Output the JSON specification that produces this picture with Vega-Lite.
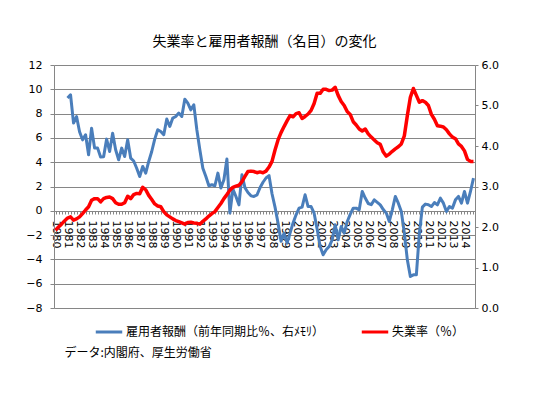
{
  "$schema": "https://vega.github.io/schema/vega-lite/v6.json",
  "width": 421,
  "height": 243,
  "autosize": "none",
  "padding": {"left": 54, "top": 65, "right": 78, "bottom": 109},
  "background": "white",
  "title": {"text": "失業率と雇用者報酬（名目）の変化", "font": "Noto Sans CJK JP", "fontSize": 14, "fontWeight": "normal", "color": "#000000", "anchor": "middle", "offset": 10},
  "config": {
    "view": {"stroke": null},
    "axisLeft": {"tickCount": 10, "labelOverlap": false, "labelFont": "DejaVu Sans", "labelFontSize": 11, "labelColor": "#000000", "labelPadding": 8,
                 "tickSize": 4, "tickColor": "#868686", "domainColor": "#868686", "grid": true, "gridColor": "#868686", "gridWidth": 1, "gridOpacity": 1},
    "axisRight": {"tickCount": 6, "labelOverlap": false, "labelFont": "DejaVu Sans", "labelFontSize": 11, "labelColor": "#000000", "labelPadding": 3,
                  "tickSize": 3, "tickColor": "#868686", "domainColor": "#868686", "grid": false}
  },
  "datasets": {
    "comp": [
      {"p":"1981Q1","v":9.28},{"p":"1981Q2","v":9.55},{"p":"1981Q3","v":7.22},{"p":"1981Q4","v":7.76},
      {"p":"1982Q1","v":6.5},{"p":"1982Q2","v":5.84},{"p":"1982Q3","v":6.26},{"p":"1982Q4","v":4.61},
      {"p":"1983Q1","v":6.8},{"p":"1983Q2","v":5.16},{"p":"1983Q3","v":5.16},{"p":"1983Q4","v":4.42},
      {"p":"1984Q1","v":4.45},{"p":"1984Q2","v":5.9},{"p":"1984Q3","v":4.88},{"p":"1984Q4","v":6.39},
      {"p":"1985Q1","v":5.02},{"p":"1985Q2","v":4.2},{"p":"1985Q3","v":5.16},{"p":"1985Q4","v":4.47},
      {"p":"1986Q1","v":5.84},{"p":"1986Q2","v":4.34},{"p":"1986Q3","v":4.1},{"p":"1986Q4","v":3.5},
      {"p":"1987Q1","v":2.82},{"p":"1987Q2","v":3.65},{"p":"1987Q3","v":3.1},{"p":"1987Q4","v":4.06},
      {"p":"1988Q1","v":4.88},{"p":"1988Q2","v":5.9},{"p":"1988Q3","v":6.67},{"p":"1988Q4","v":6.53},
      {"p":"1989Q1","v":6.26},{"p":"1989Q2","v":7.55},{"p":"1989Q3","v":6.94},{"p":"1989Q4","v":7.63},
      {"p":"1990Q1","v":7.76},{"p":"1990Q2","v":8.04},{"p":"1990Q3","v":7.76},{"p":"1990Q4","v":9.19},
      {"p":"1991Q1","v":8.86},{"p":"1991Q2","v":8.31},{"p":"1991Q3","v":8.72},{"p":"1991Q4","v":6.67},
      {"p":"1992Q1","v":5.02},{"p":"1992Q2","v":3.51},{"p":"1992Q3","v":2.82},{"p":"1992Q4","v":2.06},
      {"p":"1993Q1","v":2.14},{"p":"1993Q2","v":2.06},{"p":"1993Q3","v":3.1},{"p":"1993Q4","v":1.87},
      {"p":"1994Q1","v":2.55},{"p":"1994Q2","v":4.26},{"p":"1994Q3","v":-0.19},{"p":"1994Q4","v":1.79},
      {"p":"1995Q1","v":1.18},{"p":"1995Q2","v":0.49},{"p":"1995Q3","v":2.96},{"p":"1995Q4","v":1.9},
      {"p":"1996Q1","v":1.5},{"p":"1996Q2","v":1.23},{"p":"1996Q3","v":1.18},{"p":"1996Q4","v":1.3},
      {"p":"1997Q1","v":1.9},{"p":"1997Q2","v":2.35},{"p":"1997Q3","v":2.7},{"p":"1997Q4","v":2.9},
      {"p":"1998Q1","v":1.4},{"p":"1998Q2","v":0.3},{"p":"1998Q3","v":-1.0},{"p":"1998Q4","v":-2.5},
      {"p":"1999Q1","v":-1.84},{"p":"1999Q2","v":-2.66},{"p":"1999Q3","v":-1.84},{"p":"1999Q4","v":-1.0},
      {"p":"2000Q1","v":-0.33},{"p":"2000Q2","v":0.22},{"p":"2000Q3","v":0.3},{"p":"2000Q4","v":1.32},
      {"p":"2001Q1","v":0.35},{"p":"2001Q2","v":0.35},{"p":"2001Q3","v":-0.2},{"p":"2001Q4","v":-1.5},
      {"p":"2002Q1","v":-2.94},{"p":"2002Q2","v":-3.62},{"p":"2002Q3","v":-3.2},{"p":"2002Q4","v":-2.94},
      {"p":"2003Q1","v":-2.39},{"p":"2003Q2","v":-1.15},{"p":"2003Q3","v":-2.39},{"p":"2003Q4","v":-1.29},
      {"p":"2004Q1","v":-1.84},{"p":"2004Q2","v":-0.9},{"p":"2004Q3","v":-0.3},{"p":"2004Q4","v":0.22},
      {"p":"2005Q1","v":0.22},{"p":"2005Q2","v":0.08},{"p":"2005Q3","v":1.59},{"p":"2005Q4","v":1.05},
      {"p":"2006Q1","v":0.6},{"p":"2006Q2","v":0.5},{"p":"2006Q3","v":0.9},{"p":"2006Q4","v":0.7},
      {"p":"2007Q1","v":0.49},{"p":"2007Q2","v":0.1},{"p":"2007Q3","v":-0.19},{"p":"2007Q4","v":-0.88},
      {"p":"2008Q1","v":0.08},{"p":"2008Q2","v":1.18},{"p":"2008Q3","v":0.63},{"p":"2008Q4","v":-0.06},
      {"p":"2009Q1","v":-1.84},{"p":"2009Q2","v":-4.03},{"p":"2009Q3","v":-5.41},{"p":"2009Q4","v":-5.27},
      {"p":"2010Q1","v":-5.27},{"p":"2010Q2","v":-1.84},{"p":"2010Q3","v":0.3},{"p":"2010Q4","v":0.55},
      {"p":"2011Q1","v":0.5},{"p":"2011Q2","v":0.35},{"p":"2011Q3","v":0.68},{"p":"2011Q4","v":0.49},
      {"p":"2012Q1","v":1.04},{"p":"2012Q2","v":0.63},{"p":"2012Q3","v":-0.06},{"p":"2012Q4","v":0.35},
      {"p":"2013Q1","v":0.22},{"p":"2013Q2","v":0.9},{"p":"2013Q3","v":1.18},{"p":"2013Q4","v":0.63},
      {"p":"2014Q1","v":1.59},{"p":"2014Q2","v":0.63},{"p":"2014Q3","v":1.59},{"p":"2014Q4","v":2.69}
    ],
    "unemp": [
      {"p":"1980Q1","r":1.92},{"p":"1980Q2","r":2.0},{"p":"1980Q3","r":2.07},{"p":"1980Q4","r":2.15},
      {"p":"1981Q1","r":2.22},{"p":"1981Q2","r":2.25},{"p":"1981Q3","r":2.17},{"p":"1981Q4","r":2.2},
      {"p":"1982Q1","r":2.25},{"p":"1982Q2","r":2.33},{"p":"1982Q3","r":2.42},{"p":"1982Q4","r":2.5},
      {"p":"1983Q1","r":2.66},{"p":"1983Q2","r":2.7},{"p":"1983Q3","r":2.7},{"p":"1983Q4","r":2.62},
      {"p":"1984Q1","r":2.7},{"p":"1984Q2","r":2.73},{"p":"1984Q3","r":2.74},{"p":"1984Q4","r":2.7},
      {"p":"1985Q1","r":2.6},{"p":"1985Q2","r":2.56},{"p":"1985Q3","r":2.56},{"p":"1985Q4","r":2.6},
      {"p":"1986Q1","r":2.76},{"p":"1986Q2","r":2.7},{"p":"1986Q3","r":2.8},{"p":"1986Q4","r":2.83},
      {"p":"1987Q1","r":2.82},{"p":"1987Q2","r":2.98},{"p":"1987Q3","r":2.92},{"p":"1987Q4","r":2.78},
      {"p":"1988Q1","r":2.68},{"p":"1988Q2","r":2.57},{"p":"1988Q3","r":2.52},{"p":"1988Q4","r":2.5},
      {"p":"1989Q1","r":2.38},{"p":"1989Q2","r":2.3},{"p":"1989Q3","r":2.25},{"p":"1989Q4","r":2.2},
      {"p":"1990Q1","r":2.16},{"p":"1990Q2","r":2.13},{"p":"1990Q3","r":2.1},{"p":"1990Q4","r":2.07},
      {"p":"1991Q1","r":2.11},{"p":"1991Q2","r":2.12},{"p":"1991Q3","r":2.1},{"p":"1991Q4","r":2.09},
      {"p":"1992Q1","r":2.07},{"p":"1992Q2","r":2.14},{"p":"1992Q3","r":2.2},{"p":"1992Q4","r":2.27},
      {"p":"1993Q1","r":2.33},{"p":"1993Q2","r":2.38},{"p":"1993Q3","r":2.48},{"p":"1993Q4","r":2.58},
      {"p":"1994Q1","r":2.7},{"p":"1994Q2","r":2.8},{"p":"1994Q3","r":2.91},{"p":"1994Q4","r":2.98},
      {"p":"1995Q1","r":3.01},{"p":"1995Q2","r":3.03},{"p":"1995Q3","r":3.12},{"p":"1995Q4","r":3.25},
      {"p":"1996Q1","r":3.37},{"p":"1996Q2","r":3.38},{"p":"1996Q3","r":3.37},{"p":"1996Q4","r":3.34},
      {"p":"1997Q1","r":3.36},{"p":"1997Q2","r":3.34},{"p":"1997Q3","r":3.38},{"p":"1997Q4","r":3.48},
      {"p":"1998Q1","r":3.62},{"p":"1998Q2","r":3.9},{"p":"1998Q3","r":4.15},{"p":"1998Q4","r":4.33},
      {"p":"1999Q1","r":4.48},{"p":"1999Q2","r":4.62},{"p":"1999Q3","r":4.75},{"p":"1999Q4","r":4.72},
      {"p":"2000Q1","r":4.8},{"p":"2000Q2","r":4.82},{"p":"2000Q3","r":4.68},{"p":"2000Q4","r":4.73},
      {"p":"2001Q1","r":4.79},{"p":"2001Q2","r":4.88},{"p":"2001Q3","r":5.05},{"p":"2001Q4","r":5.3},
      {"p":"2002Q1","r":5.3},{"p":"2002Q2","r":5.4},{"p":"2002Q3","r":5.4},{"p":"2002Q4","r":5.37},
      {"p":"2003Q1","r":5.38},{"p":"2003Q2","r":5.45},{"p":"2003Q3","r":5.25},{"p":"2003Q4","r":5.1},
      {"p":"2004Q1","r":5.0},{"p":"2004Q2","r":4.85},{"p":"2004Q3","r":4.78},{"p":"2004Q4","r":4.6},
      {"p":"2005Q1","r":4.52},{"p":"2005Q2","r":4.42},{"p":"2005Q3","r":4.37},{"p":"2005Q4","r":4.42},
      {"p":"2006Q1","r":4.3},{"p":"2006Q2","r":4.22},{"p":"2006Q3","r":4.15},{"p":"2006Q4","r":4.08},
      {"p":"2007Q1","r":4.04},{"p":"2007Q2","r":3.85},{"p":"2007Q3","r":3.75},{"p":"2007Q4","r":3.8},
      {"p":"2008Q1","r":3.87},{"p":"2008Q2","r":3.93},{"p":"2008Q3","r":3.98},{"p":"2008Q4","r":4.05},
      {"p":"2009Q1","r":4.25},{"p":"2009Q2","r":4.75},{"p":"2009Q3","r":5.2},{"p":"2009Q4","r":5.42},
      {"p":"2010Q1","r":5.25},{"p":"2010Q2","r":5.08},{"p":"2010Q3","r":5.12},{"p":"2010Q4","r":5.08},
      {"p":"2011Q1","r":5.0},{"p":"2011Q2","r":4.78},{"p":"2011Q3","r":4.66},{"p":"2011Q4","r":4.5},
      {"p":"2012Q1","r":4.49},{"p":"2012Q2","r":4.47},{"p":"2012Q3","r":4.4},{"p":"2012Q4","r":4.3},
      {"p":"2013Q1","r":4.22},{"p":"2013Q2","r":4.18},{"p":"2013Q3","r":4.05},{"p":"2013Q4","r":3.99},
      {"p":"2014Q1","r":3.88},{"p":"2014Q2","r":3.67},{"p":"2014Q3","r":3.62},{"p":"2014Q4","r":3.62}
    ]
  },
  "layer": [
    {
      "layer": [
        {
          "data": {"name": "comp"},
          "mark": {"type": "line", "strokeWidth": 3, "strokeJoin": "round"},
          "encoding": {
            "x": {"field": "p", "type": "ordinal", "scale": {"type": "point", "padding": 0.5},
                  "axis": {"title": null, "orient": "bottom", "offset": -97, "labelAngle": 90, "labelAlign": "left", "labelBaseline": "middle",
                           "labelExpr": "slice(datum.label, 4) == 'Q1' ? slice(datum.label, 0, 4) : ''",
                           "labelOverlap": false, "labelFont": "DejaVu Sans", "labelFontSize": 11, "labelColor": "#000000", "labelPadding": 6,
                           "tickSize": 3, "tickColor": "#868686", "domainColor": "#868686", "grid": false}},
            "y": {"field": "v", "type": "quantitative", "scale": {"domain": [-8, 12], "nice": false, "zero": false},
                  "axis": {"title": null, "orient": "left"}},
            "color": {"datum": "雇用者報酬（前年同期比％、右ﾒﾓﾘ）", "type": "nominal",
                      "scale": {"domain": ["雇用者報酬（前年同期比％、右ﾒﾓﾘ）", "失業率（％）"], "range": ["#4A7EBB", "#FF0000"]},
                      "legend": {"title": null, "orient": "none", "legendX": 40, "legendY": 252, "direction": "horizontal",
                                 "symbolType": "stroke", "symbolSize": 700, "symbolStrokeWidth": 3, "labelFont": "Noto Sans CJK JP",
                                 "labelFontSize": 12, "labelColor": "#000000", "labelLimit": 400, "labelOffset": 2, "columnPadding": 30}}
          }
        },
        {
          "data": {"values": [{"t": "データ:内閣府、厚生労働省"}]},
          "mark": {"type": "text", "align": "left", "baseline": "middle", "font": "Noto Sans CJK JP", "fontSize": 12, "color": "#000000"},
          "encoding": {
            "x": {"datum": "1980Q4", "type": "ordinal"},
            "y": {"datum": -11.7, "type": "quantitative"},
            "text": {"field": "t"}
          }
        }
      ]
    },
    {
      "data": {"name": "unemp"},
      "mark": {"type": "line", "strokeWidth": 3.5, "strokeJoin": "round"},
      "encoding": {
        "x": {"field": "p", "type": "ordinal"},
        "y": {"field": "r", "type": "quantitative", "scale": {"domain": [0, 6], "nice": false},
              "axis": {"title": null, "orient": "right", "format": ".1f"}},
        "color": {"datum": "失業率（％）", "type": "nominal"}
      }
    }
  ],
  "resolve": {"scale": {"y": "independent"}}
}
